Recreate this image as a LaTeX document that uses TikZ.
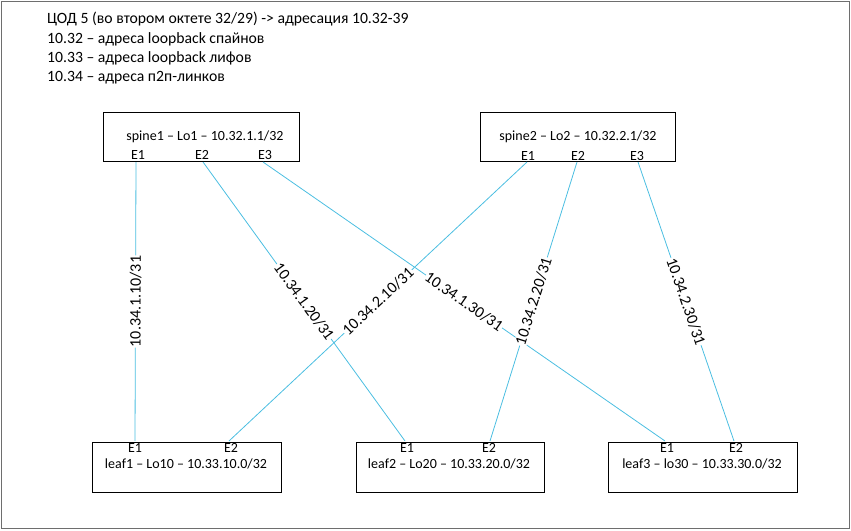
\documentclass[tikz,border=0pt]{standalone}
\usepackage{fontspec}
\setmainfont{Carlito}
\definecolor{linkc}{RGB}{75,190,225}
\definecolor{framec}{RGB}{110,110,110}
\begin{document}
\begin{tikzpicture}[x=1pt,y=-1pt,
  devbox/.style={draw=black,line width=0.8pt,fill=white},
  devtxt/.style={font=\fontsize{14}{16}\selectfont,inner sep=0pt,anchor=center},
  porttxt/.style={font=\fontsize{14}{16}\selectfont,inner sep=0pt,anchor=center},
  link/.style={draw=linkc,line width=0.8pt},
  linklbl/.style={font=\fontsize{16}{18}\selectfont,fill=white,inner sep=0.5pt,sloped,midway},
  hdr/.style={font=\fontsize{15.7}{18}\selectfont,inner sep=0pt,anchor=west}]
\useasboundingbox (0,0) rectangle (851,530);
\draw[framec,line width=1.3pt] (1.5,1.5) rectangle (849.5,528.5);

% header
\node[hdr] (h1) at (47,19) {ЦОД 5 (во втором октете 32/29) -> адресация 10.32-39};
\node[hdr] (h2) at (47,39) {10.32 – адреса loopback спайнов};
\node[hdr] (h3) at (47,58) {10.33 – адреса loopback лифов};
\node[hdr] (h4) at (47,78) {10.34 – адреса п2п-линков};

% boxes
\draw[devbox] (103,112) rectangle (299,161);
\draw[devbox] (480,112) rectangle (675,161);
\draw[devbox] (92,442) rectangle (281,492);
\draw[devbox] (356,442) rectangle (544,492);
\draw[devbox] (608,442) rectangle (797,492);

\node[devtxt] (s1) at (205,137) {spine1 – Lo1 – 10.32.1.1/32};
\node[devtxt] (s2) at (578,137) {spine2 – Lo2 – 10.32.2.1/32};
\node[devtxt] (l1) at (186,464) {leaf1 – Lo10 – 10.33.10.0/32};
\node[devtxt] (l2) at (449,464) {leaf2 – Lo20 – 10.33.20.0/32};
\node[devtxt] (l3) at (702,464) {leaf3 – lo30 – 10.33.30.0/32};

% ports
\node[porttxt] (s1p1) at (138,155) {E1};
\node[porttxt] (s1p2) at (202,155) {E2};
\node[porttxt] (s1p3) at (265,155) {E3};
\node[porttxt] (s2p1) at (528,156) {E1};
\node[porttxt] (s2p2) at (578,156) {E2};
\node[porttxt] (s2p3) at (637,156) {E3};
\node[porttxt] (l1p1) at (135,448) {E1};
\node[porttxt] (l1p2) at (231,448) {E2};
\node[porttxt] (l2p1) at (407,448) {E1};
\node[porttxt] (l2p2) at (489,448) {E2};
\node[porttxt] (l3p1) at (667,448) {E1};
\node[porttxt] (l3p2) at (736,448) {E2};

% link end points
\coordinate (a1) at (136,162);
\coordinate (a2) at (203,162);
\coordinate (a3) at (263,162);
\coordinate (b1) at (527,162);
\coordinate (b2) at (577,162);
\coordinate (b3) at (638,162);
\coordinate (c1) at (135,441);
\coordinate (c2) at (229,441);
\coordinate (d1) at (405,441);
\coordinate (d2) at (490,441);
\coordinate (e1) at (665,441);
\coordinate (e2) at (734,441);

\draw[link] (a1) -- node[linklbl,pos=0.5] {10.34.1.10/31} (c1);
\draw[link] (a2) -- node[linklbl,pos=0.5] {10.34.1.20/31} (d1);
\draw[link] (a3) -- node[linklbl,pos=0.5] {10.34.1.30/31} (e1);
\draw[link] (c2) -- node[linklbl,pos=0.5] {10.34.2.10/31} (b1);
\draw[link] (d2) -- node[linklbl,pos=0.5] {10.34.2.20/31} (b2);
\draw[link] (b3) -- node[linklbl,pos=0.5] {10.34.2.30/31} (e2);
\end{tikzpicture}
\end{document}
